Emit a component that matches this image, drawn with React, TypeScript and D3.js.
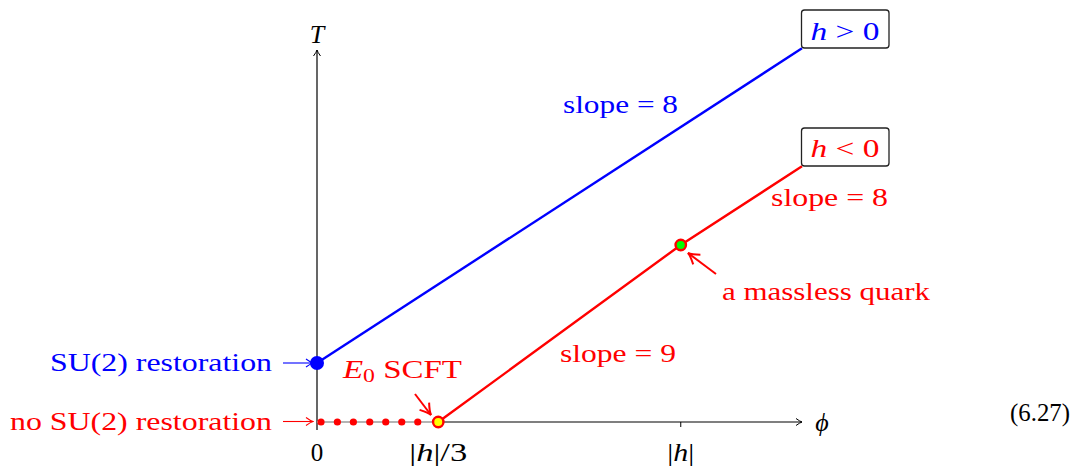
import React from "react";
import * as d3 from "d3";

const BLUE = "#0000ff";
const RED = "#ff0000";

// data (phi in units of |h|, T arbitrary units)
const phiTicks = [0, 1 / 3, 1];
const phiTickLabels = ["0", "|h|/3", "|h|"];
const bluePhi = [0, 4 / 3];
const blueT = [2, 38 / 3];
const redPhi = [1 / 3, 1, 4 / 3];
const redT = [0, 6, 26 / 3];
const dotPhi = [0.011, 0.056, 0.1, 0.145, 0.189, 0.233, 0.277];
const slopeTexts = ["slope = 8", "slope = 9", "slope = 8"];

const FONT = "'Liberation Serif', 'Times New Roman', serif";
const ADJ = "spacingAndGlyphs";

function Italic({ children }: { children: React.ReactNode }) {
  return <tspan fontStyle="italic">{children}</tspan>;
}

export default function App() {
  const x = d3.scaleLinear().domain([0, 4 / 3]).range([317, 802]);
  const y = d3.scaleLinear().domain([0, 38 / 3]).range([422, 48.3]);
  const line = d3
    .line<[number, number]>()
    .x((d) => x(d[0]))
    .y((d) => y(d[1]));
  const bluePts: [number, number][] = bluePhi.map((p, i) => [p, blueT[i]]);
  const redPts: [number, number][] = redPhi.map((p, i) => [p, redT[i]]);

  const fs = 25;
  const x0 = x(0);
  const y0 = y(0);
  const xEnd = x(4 / 3);
  const head = "M-7,-4 Q-2.5,-0.7 0,0 Q-2.5,0.7 -7,4";

  return (
    <svg
      width={1083}
      height={469}
      viewBox="0 0 1083 469"
      style={{ position: "absolute", left: 0, top: 0, background: "#fff" }}
      fontFamily={FONT}
    >
      <defs>
        <marker id="axArrow" viewBox="-9 -5 10 10" refX={0} refY={0} markerWidth={10} markerHeight={10} markerUnits="userSpaceOnUse" orient="auto">
          <path d="M-6,-3.5 Q-2,-0.6 0,0 Q-2,0.6 -6,3.5" fill="none" stroke="#000" strokeWidth={1} />
        </marker>
        <marker id="txtArrowB" viewBox="-9 -5 10 10" refX={0} refY={0} markerWidth={10} markerHeight={10} markerUnits="userSpaceOnUse" orient="auto">
          <path d={head} fill="none" stroke={BLUE} strokeWidth={1.1} />
        </marker>
        <marker id="txtArrowR" viewBox="-9 -5 10 10" refX={0} refY={0} markerWidth={10} markerHeight={10} markerUnits="userSpaceOnUse" orient="auto">
          <path d={head} fill="none" stroke={RED} strokeWidth={1.1} />
        </marker>
        <marker id="redArrow" viewBox="-14 -8 16 16" refX={0} refY={0} markerWidth={16} markerHeight={16} markerUnits="userSpaceOnUse" orient="auto">
          <path d="M-11,-6 Q-4,-1 0,0 Q-4,1 -11,6" fill="none" stroke={RED} strokeWidth={2} />
        </marker>
      </defs>

      {/* axes */}
      <line x1={x0} y1={430} x2={x0} y2={50} stroke="#000" strokeWidth={1.2} markerEnd="url(#axArrow)" />
      <line x1={x0} y1={y0} x2={xEnd} y2={y0} stroke="#000" strokeWidth={1.2} markerEnd="url(#axArrow)" />
      {phiTicks.slice(1).map((p) => (
        <line key={p} x1={x(p)} y1={y0} x2={x(p)} y2={y0 + 5} stroke="#000" strokeWidth={1} />
      ))}
      <text x={x0} y={43} textAnchor="middle" fontSize={26}>
        <Italic>T</Italic>
      </text>
      <text x={822} y={431} textAnchor="middle" fontSize={26}>
        <Italic>ϕ</Italic>
      </text>

      {/* tick labels */}
      <text x={x(phiTicks[0])} y={461} textAnchor="middle" fontSize={fs}>{phiTickLabels[0]}</text>
      <text x={x(phiTicks[1])} y={461} textAnchor="middle" fontSize={fs} textLength={58} lengthAdjust={ADJ}>
        |<Italic>h</Italic>|/3
      </text>
      <text x={x(phiTicks[2])} y={461} textAnchor="middle" fontSize={fs} textLength={27} lengthAdjust={ADJ}>
        |<Italic>h</Italic>|
      </text>

      {/* gray segment + red dots along phi axis */}
      <line x1={x0} y1={y0} x2={x(1 / 3)} y2={y0} stroke="#b4b4b4" strokeWidth={2.2} />
      {dotPhi.map((p, i) => (
        <circle key={i} cx={x(p)} cy={y0} r={3.6} fill={RED} />
      ))}

      {/* lines */}
      <path d={line(bluePts) || ""} fill="none" stroke={BLUE} strokeWidth={2.4} />
      <path d={line(redPts) || ""} fill="none" stroke={RED} strokeWidth={2.4} />

      {/* points */}
      <circle cx={x(bluePhi[0])} cy={y(blueT[0])} r={7} fill={BLUE} />
      <circle cx={x(redPhi[0])} cy={y(redT[0])} r={5.2} fill="#ffff00" stroke={RED} strokeWidth={2.4} />
      <circle cx={x(redPhi[1])} cy={y(redT[1])} r={5.2} fill="#00ff00" stroke={RED} strokeWidth={2.4} />

      {/* boxes */}
      <rect x={801.5} y={10} width={87.5} height={38} rx={3} fill="#fff" stroke="#222" strokeWidth={1.3} />
      <text x={845} y={40} textAnchor="middle" fontSize={26} fill={BLUE} textLength={69} lengthAdjust={ADJ}>
        <Italic>h</Italic> &gt; 0
      </text>
      <rect x={801.5} y={128} width={87.5} height={38} rx={3} fill="#fff" stroke="#222" strokeWidth={1.3} />
      <text x={845} y={157} textAnchor="middle" fontSize={26} fill={RED} textLength={69} lengthAdjust={ADJ}>
        <Italic>h</Italic> &lt; 0
      </text>

      {/* slope labels */}
      <text x={563} y={113} fontSize={fs} fill={BLUE} textLength={115} lengthAdjust={ADJ}>{slopeTexts[0]}</text>
      <text x={560} y={362} fontSize={fs} fill={RED} textLength={116} lengthAdjust={ADJ}>{slopeTexts[1]}</text>
      <text x={771} y={206} fontSize={fs} fill={RED} textLength={117} lengthAdjust={ADJ}>{slopeTexts[2]}</text>

      {/* left labels */}
      <text x={272} y={371} textAnchor="end" fontSize={fs} fill={BLUE} textLength={222} lengthAdjust={ADJ}>SU(2) restoration</text>
      <line x1={283} y1={363} x2={313} y2={363} stroke={BLUE} strokeWidth={1.1} markerEnd="url(#txtArrowB)" />
      <text x={272} y={430} textAnchor="end" fontSize={fs} fill={RED} textLength={262} lengthAdjust={ADJ}>no SU(2) restoration</text>
      <line x1={283} y1={421.5} x2={313} y2={421.5} stroke={RED} strokeWidth={1.1} markerEnd="url(#txtArrowR)" />

      {/* E0 SCFT */}
      <text x={343} y={378} fontSize={fs} fill={RED} textLength={119} lengthAdjust={ADJ}>
        <Italic>E</Italic>
        <tspan fontSize={18} dy={4}>0</tspan>
        <tspan dy={-4}> SCFT</tspan>
      </text>
      <line x1={415} y1={394} x2={431} y2={415} stroke={RED} strokeWidth={2} markerEnd="url(#redArrow)" />

      {/* massless quark */}
      <text x={722} y={300} fontSize={fs} fill={RED} textLength={208} lengthAdjust={ADJ}>a massless quark</text>
      <line x1={716} y1={274} x2={688} y2={253} stroke={RED} strokeWidth={2} markerEnd="url(#redArrow)" />

      {/* equation number */}
      <text x={1070} y={421} textAnchor="end" fontSize={fs} textLength={60} lengthAdjust={ADJ}>(6.27)</text>
    </svg>
  );
}
